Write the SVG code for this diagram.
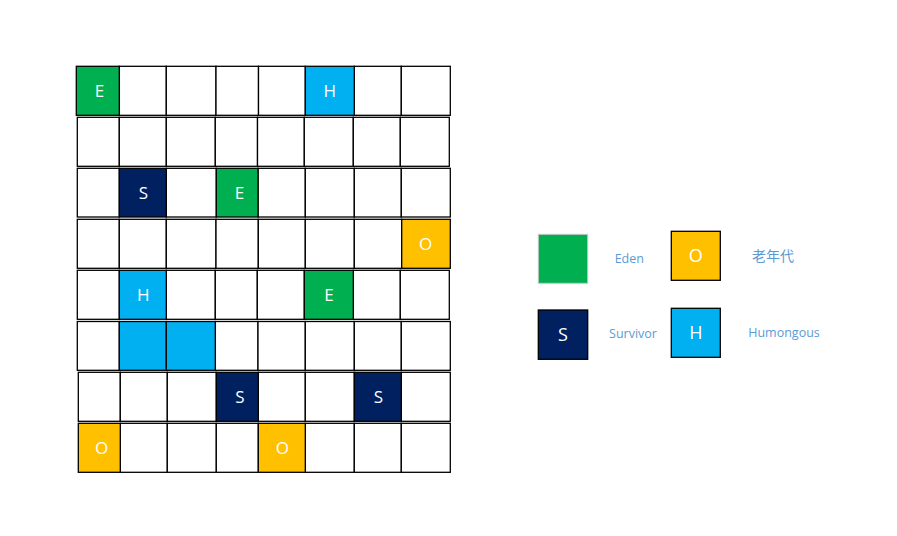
<svg xmlns="http://www.w3.org/2000/svg" width="897" height="536" viewBox="0 0 897 536">
<style>
rect{stroke:#000;stroke-width:1.3}
.bg{fill:#fff;stroke:none}
.w{fill:#fff}
.e{fill:#00B050}
.s{fill:#002060}
.h{fill:#00B0F0}
.o{fill:#FFC000}
.lg{stroke:#c8c8c8;stroke-width:1}
.t{font-family:"Open Sans","Noto Sans","Liberation Sans",sans-serif;font-size:17px;fill:#fff;text-anchor:middle}
.l{font-family:"Open Sans","Noto Sans","Liberation Sans","Noto Sans CJK SC",sans-serif;font-size:12.5px;fill:#5B9BD5;text-anchor:middle}
.cjk{font-family:"Noto Sans CJK SC",sans-serif;font-size:14px}
</style>
<rect class="bg" x="0" y="0" width="897" height="536"/>
<g id="grid">
<g id="row1">
<rect class="w" x="119.3" y="66.3" width="47" height="49"/>
<rect class="w" x="166.3" y="66.3" width="49.7" height="49"/>
<rect class="w" x="216" y="66.3" width="42.5" height="49"/>
<rect class="w" x="258.5" y="66.3" width="46.8" height="49"/>
<rect class="w" x="354.3" y="66.3" width="47" height="49"/>
<rect class="w" x="401.3" y="66.3" width="49" height="49"/>
<g id="r1c1"><rect class="e" x="76.3" y="66.3" width="43" height="49"/><text class="t" x="99.5" y="97">E</text></g>
<g id="r1c6"><rect class="h" x="305.3" y="66.3" width="49" height="49"/><text class="t" x="329.8" y="97">H</text></g>
</g>
<g id="row2">
<rect class="w" x="77.3" y="117.3" width="42" height="49"/>
<rect class="w" x="119.3" y="117.3" width="47" height="49"/>
<rect class="w" x="166.3" y="117.3" width="49" height="49"/>
<rect class="w" x="215.3" y="117.3" width="42.2" height="49"/>
<rect class="w" x="257.5" y="117.3" width="46.8" height="49"/>
<rect class="w" x="304.3" y="117.3" width="49" height="49"/>
<rect class="w" x="353.3" y="117.3" width="47" height="49"/>
<rect class="w" x="400.3" y="117.3" width="49" height="49"/>
</g>
<g id="row3">
<rect class="w" x="77.3" y="168.3" width="42" height="48.7"/>
<rect class="w" x="166.3" y="168.3" width="50" height="48.7"/>
<rect class="w" x="258" y="168.3" width="47.3" height="48.7"/>
<rect class="w" x="305.3" y="168.3" width="49" height="48.7"/>
<rect class="w" x="354.3" y="168.3" width="47" height="48.7"/>
<rect class="w" x="401.3" y="168.3" width="49" height="48.7"/>
<g id="r3c2"><rect class="s" x="119.3" y="168.3" width="47" height="48.7"/><text class="t" x="143.3" y="198.8">S</text></g>
<g id="r3c4"><rect class="e" x="216.3" y="168.3" width="41.7" height="48.7"/><text class="t" x="239.5" y="198.8">E</text></g>
</g>
<g id="row4">
<rect class="w" x="77.3" y="219.3" width="42" height="49"/>
<rect class="w" x="119.3" y="219.3" width="47" height="49"/>
<rect class="w" x="166.3" y="219.3" width="49.7" height="49"/>
<rect class="w" x="216" y="219.3" width="42.3" height="49"/>
<rect class="w" x="258.3" y="219.3" width="47" height="49"/>
<rect class="w" x="305.3" y="219.3" width="49" height="49"/>
<rect class="w" x="354.3" y="219.3" width="47.4" height="49"/>
<g id="r4c8"><rect class="o" x="401.7" y="219.3" width="48.6" height="49"/><text class="t" x="425.5" y="250">O</text></g>
</g>
<g id="row5">
<rect class="w" x="77.3" y="270.3" width="42" height="49"/>
<rect class="w" x="166.3" y="270.3" width="49" height="49"/>
<rect class="w" x="215.3" y="270.3" width="42" height="49"/>
<rect class="w" x="257.3" y="270.3" width="47" height="49"/>
<rect class="w" x="353.3" y="270.3" width="47" height="49"/>
<rect class="w" x="400.3" y="270.3" width="49" height="49"/>
<g id="r5c2"><rect class="h" x="119.3" y="270.3" width="47" height="49"/><text class="t" x="143.3" y="301">H</text></g>
<g id="r5c6"><rect class="e" x="304.3" y="270.3" width="49" height="49"/><text class="t" x="329" y="301">E</text></g>
</g>
<g id="row6">
<rect class="w" x="77.3" y="321.5" width="42" height="48.8"/>
<rect class="w" x="215.3" y="321.5" width="42.7" height="48.8"/>
<rect class="w" x="258" y="321.5" width="47.3" height="48.8"/>
<rect class="w" x="305.3" y="321.5" width="49" height="48.8"/>
<rect class="w" x="354.3" y="321.5" width="47" height="48.8"/>
<rect class="w" x="401.3" y="321.5" width="49" height="48.8"/>
<g id="r6c2"><rect class="h" x="119.3" y="321.5" width="47" height="48.8"/></g>
<g id="r6c3"><rect class="h" x="166.3" y="321.5" width="49" height="48.8"/></g>
</g>
<g id="row7">
<rect class="w" x="78.3" y="372.3" width="42" height="49"/>
<rect class="w" x="120.3" y="372.3" width="47" height="49"/>
<rect class="w" x="167.3" y="372.3" width="49" height="49"/>
<rect class="w" x="258.3" y="372.3" width="47" height="49"/>
<rect class="w" x="305.3" y="372.3" width="49" height="49"/>
<rect class="w" x="401.3" y="372.3" width="49" height="49"/>
<g id="r7c4"><rect class="s" x="216.3" y="372.3" width="42" height="49"/><text class="t" x="240" y="403">S</text></g>
<g id="r7c7"><rect class="s" x="354.3" y="372.3" width="47" height="49"/><text class="t" x="378.5" y="403">S</text></g>
</g>
<g id="row8">
<rect class="w" x="120.3" y="423.3" width="47" height="49"/>
<rect class="w" x="167.3" y="423.3" width="49" height="49"/>
<rect class="w" x="216.3" y="423.3" width="42" height="49"/>
<rect class="w" x="305.3" y="423.3" width="49" height="49"/>
<rect class="w" x="354.3" y="423.3" width="47" height="49"/>
<rect class="w" x="401.3" y="423.3" width="49" height="49"/>
<g id="r8c1"><rect class="o" x="78.3" y="423.3" width="42" height="49"/><text class="t" x="101.5" y="454">O</text></g>
<g id="r8c5"><rect class="o" x="258.3" y="423.3" width="47" height="49"/><text class="t" x="282.3" y="454">O</text></g>
</g>
</g>
<g id="connectors"/>
<g id="legend">
<g id="legend-eden"><rect class="e lg" x="538.3" y="234.3" width="49.4" height="49"/><text class="l" x="629.3" y="263">Eden</text></g>
<g id="legend-old"><rect class="o" x="671.3" y="231.3" width="49" height="49"/><text class="t" x="695.8" y="262" style="font-size:18px">O</text><text class="l cjk" x="773" y="261">老年代</text></g>
<g id="legend-survivor"><rect class="s" x="538.3" y="310" width="49.4" height="49.3"/><text class="t" x="563" y="341" style="font-size:18px">S</text><text class="l" x="633" y="337.5">Survivor</text></g>
<g id="legend-humongous"><rect class="h" x="671.3" y="308.3" width="49" height="49"/><text class="t" x="695.8" y="339" style="font-size:18px">H</text><text class="l" x="784" y="337.3">Humongous</text></g>
</g>
</svg>
